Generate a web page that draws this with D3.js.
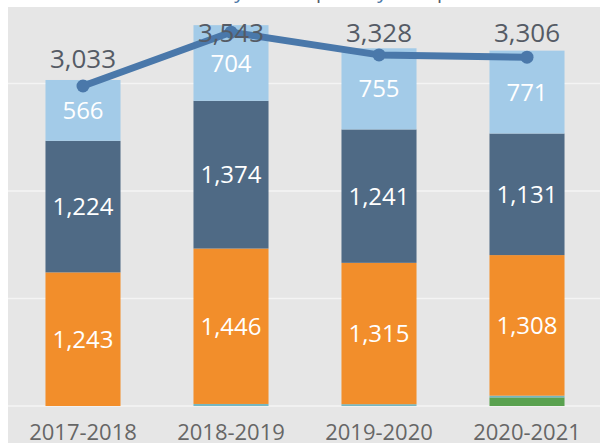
<!DOCTYPE html>
<html>
<head>
<meta charset="utf-8">
<script src="https://cdn.jsdelivr.net/npm/d3@7"></script>
<style>
  body { margin: 0; background: #fff; }
  svg { display: block; }
</style>
</head>
<body>
<svg id="chart" width="600" height="443"></svg>
<script>
// data
const years = ["2017-2018", "2018-2019", "2019-2020", "2020-2021"];
const green = [0, 0, 0, 80];
const teal = [0, 19, 17, 16];
const orange = [1243, 1446, 1315, 1308];
const slate = [1224, 1374, 1241, 1131];
const light = [566, 704, 755, 771];
const totals = [3033, 3543, 3328, 3306];
const gridTicks = [0, 1000, 2000, 3000];

const series = [
  {key: "green", values: green, color: "#59a14f", label: false},
  {key: "teal", values: teal, color: "#76b7c0", label: false},
  {key: "orange", values: orange, color: "#f28e2b", label: true},
  {key: "slate", values: slate, color: "#4f6a85", label: true},
  {key: "light", values: light, color: "#a3cbe8", label: true}
];

const width = 600, height = 443;
const plot = {left: 8, top: 7, bottom: 406};

const svg = d3.select("#chart")
    .style("font-family", "'Open Sans', sans-serif");

// title, mostly cut off above the picture
const title = svg.append("text")
    .attr("y", -2)
    .style("font-size", "20px")
    .attr("fill", "#555b65");
title.append("tspan").attr("x", 222).attr("fill", "#4e79a7").text("by");
title.append("tspan").attr("x", 316).text("p");
title.append("tspan").attr("x", 365).attr("fill", "#4e79a7").text("by");
title.append("tspan").attr("x", 437).text("p");

svg.append("rect")
    .attr("x", plot.left)
    .attr("y", plot.top)
    .attr("width", width - plot.left)
    .attr("height", height - plot.top)
    .attr("fill", "#e6e6e6");

const x = d3.scaleBand()
    .domain(years)
    .range([9, 601])
    .paddingInner(0.493)
    .paddingOuter(0.2465);

const y = d3.scaleLinear()
    .domain([0, 3712])
    .range([plot.bottom, plot.top]);

// the total line sits on its own (dual) axis
const yLine = d3.scaleLinear()
    .domain([0, 3782])
    .range([plot.bottom, plot.top]);

svg.append("g")
  .selectAll("line")
  .data(gridTicks)
  .join("line")
    .attr("x1", plot.left)
    .attr("x2", width)
    .attr("y1", d => y(d))
    .attr("y2", d => y(d))
    .attr("stroke", "#f4f4f4")
    .attr("stroke-width", 1.5);

// stack
const rows = years.map((yr, i) => {
  const r = {year: yr};
  series.forEach(s => r[s.key] = s.values[i]);
  return r;
});
const stacked = d3.stack().keys(series.map(s => s.key))(rows);

const layer = svg.append("g")
  .selectAll("g")
  .data(stacked)
  .join("g")
    .attr("fill", (d, i) => series[i].color);

layer.selectAll("rect")
  .data(d => d)
  .join("rect")
    .attr("x", d => x(d.data.year))
    .attr("width", x.bandwidth())
    .attr("y", d => y(d[1]))
    .attr("height", d => y(d[0]) - y(d[1]));

layer.filter((d, i) => series[i].label)
  .selectAll("text")
  .data(d => d)
  .join("text")
    .attr("x", d => x(d.data.year) + x.bandwidth() / 2)
    .attr("y", d => (y(d[0]) + y(d[1])) / 2)
    .attr("dy", "0.36em")
    .attr("text-anchor", "middle")
    .attr("fill", "#fff")
    .style("font-size", "24px")
    .text(d => d3.format(",")(d[1] - d[0]));

// total line
const line = d3.line()
    .x((d, i) => x(years[i]) + x.bandwidth() / 2)
    .y(d => yLine(d));

svg.append("path")
    .datum(totals)
    .attr("fill", "none")
    .attr("stroke", "#4a78aa")
    .attr("stroke-width", 7)
    .attr("stroke-linejoin", "round")
    .attr("d", line);

svg.append("g")
  .selectAll("circle")
  .data(totals)
  .join("circle")
    .attr("cx", (d, i) => x(years[i]) + x.bandwidth() / 2)
    .attr("cy", d => yLine(d))
    .attr("r", 6.5)
    .attr("fill", "#4a78aa");

svg.append("g")
  .selectAll("text")
  .data(totals)
  .join("text")
    .attr("x", (d, i) => x(years[i]) + x.bandwidth() / 2)
    .attr("y", d => Math.max(yLine(d) - 18, 42))
    .attr("text-anchor", "middle")
    .attr("fill", "#555b65")
    .style("font-size", "26px")
    .text(d => d3.format(",")(d));

// x axis labels
svg.append("g")
  .selectAll("text")
  .data(years)
  .join("text")
    .attr("x", d => x(d) + x.bandwidth() / 2)
    .attr("y", 440)
    .attr("text-anchor", "middle")
    .attr("fill", "#666")
    .style("font-size", "22px")
    .text(d => d);
</script>
</body>
</html>
